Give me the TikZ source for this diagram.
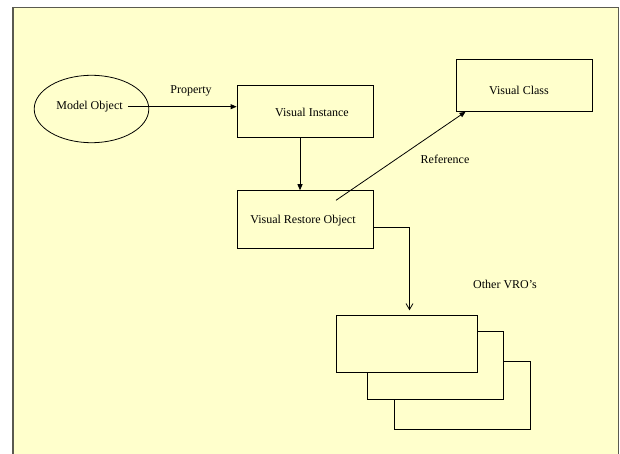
\documentclass[tikz,border=0pt]{standalone}
\usepackage{fontspec}
\setmainfont{Liberation Serif}
\usetikzlibrary{shapes.geometric,arrows.meta}
\definecolor{paper}{HTML}{FFFFCC}
\definecolor{frame}{HTML}{5A5A50}
\tikzset{
  line/.style={draw=black, line width=0.8pt},
  box/.style={line, rectangle, fill=paper, inner sep=0pt},
  lbl/.style={inner sep=0pt, font=\fontsize{12}{14}\selectfont},
  solidtip/.style={-{Triangle[length=6pt,width=5pt]}},
  opentip/.style={-{Straight Barb[length=6pt,width=7pt]}}
}
\begin{document}
\begin{tikzpicture}[x=1pt,y=-1pt]
  \useasboundingbox (0,0) rectangle (620,454);
  % page background and frame
  \fill[white] (0,0) rectangle (620,454);
  \fill[paper] (13,7.5) rectangle (618.3,454);
  \draw[frame, line width=1.4pt] (13,454) -- (13,7.5) -- (618.3,7.5) -- (618.3,454);

  % model object
  \node[line, ellipse, minimum width=114.6pt, minimum height=67.4pt, inner sep=0pt] (mo) at (91.5,109) {};
  \node[lbl] (motext) at (89.5,106.7) {Model Object};

  % visual instance
  \node[box, minimum width=136pt, minimum height=51.6pt] (vi) at (305,111.5) {};
  \node[lbl] (vitext) at (312,112) {Visual Instance};

  % visual class
  \node[box, minimum width=136pt, minimum height=51.6pt] (vc) at (524,85.5) {};
  \node[lbl] (vctext) at (519,90.7) {Visual Class};

  % visual restore object
  \node[box, minimum width=136pt, minimum height=57.3pt] (vro) at (305,219.3) {};
  \node[lbl] (vrotext) at (303,221) {Visual Restore Object};

  % stack of other VROs (back to front)
  \node[box, minimum width=135.5pt, minimum height=68pt] (v3) at (462.2,395) {};
  \node[box, minimum width=135.4pt, minimum height=67.7pt] (v2) at (435.3,365.2) {};
  \node[box, minimum width=141pt, minimum height=57pt] (v1) at (406.5,344.2) {};

  % labels
  \node[lbl] (prop) at (191,90.7) {Property};
  \node[lbl] (ref) at (445,159) {Reference};
  \node[lbl] (other) at (505,284) {Other VRO’s};

  % connectors
  \coordinate (refstart) at (336,200.3);
  \draw[line, solidtip] ([xshift=5pt]motext.east) -- (motext.east -| vi.west);
  \draw[line, solidtip] ([xshift=-5pt]vi.south) -- ([xshift=-5pt]vro.north);
  \draw[line, solidtip] (refstart) -- ([xshift=10pt]vc.south west);
  \draw[line, opentip] ([yshift=-8.4pt]vro.east) -| ([xshift=3pt,yshift=5pt]v1.north);
\end{tikzpicture}
\end{document}
